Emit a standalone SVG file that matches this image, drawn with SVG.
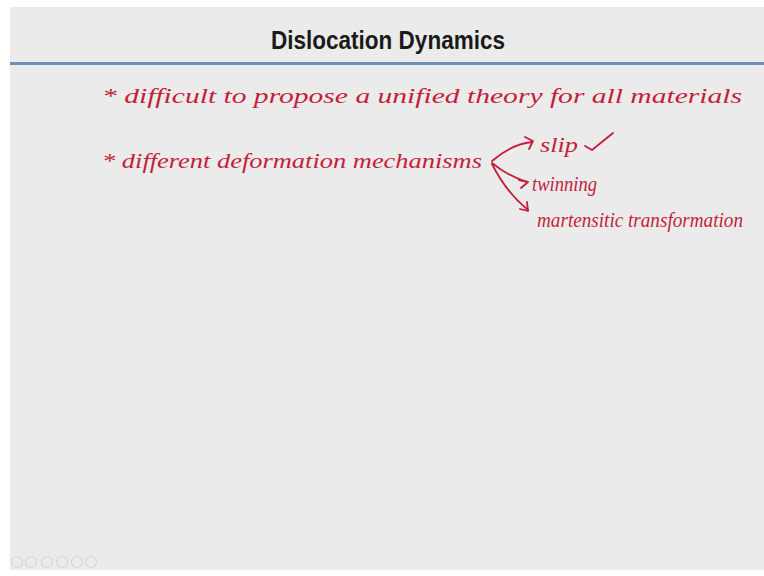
<svg xmlns="http://www.w3.org/2000/svg" width="764" height="576" viewBox="0 0 764 576">
<defs>
<style>
.hw{font-family:"Liberation Serif","DejaVu Serif",serif;font-style:italic;fill:#c41e3a;font-size:22px}
.title{font-family:"Liberation Sans Narrow","Liberation Sans",Arial,sans-serif;font-weight:bold;font-size:25px;fill:#1a1a1a}
.ink{fill:none;stroke:#c41e3a;stroke-width:1.8;stroke-linecap:round;stroke-linejoin:round}
.icon{fill:none;stroke:#d6d6d6;stroke-width:1.2}
</style>
</defs>
<rect x="0" y="0" width="764" height="576" fill="#ffffff"/>
<rect x="10" y="7" width="754" height="563" fill="#ebebeb"/>
<g id="header">
<text class="title" x="388" y="49" text-anchor="middle" textLength="234" lengthAdjust="spacingAndGlyphs">Dislocation Dynamics</text>
<rect x="10" y="62" width="754" height="3" fill="#6f8fb5"/>
</g>
<g id="line1">
<text class="hw" x="102" y="103" textLength="640" lengthAdjust="spacingAndGlyphs">* difficult to propose a unified theory for all materials</text>
</g>
<g id="line2">
<text class="hw" x="102" y="168" textLength="380" lengthAdjust="spacingAndGlyphs">* different deformation mechanisms</text>
</g>
<g id="slip">
<text class="hw" x="540" y="152" textLength="38" lengthAdjust="spacingAndGlyphs">slip</text>
<path class="ink" d="M585,146 L592,150 L613,133"/>
</g>
<g id="twinning">
<text class="hw" x="532" y="191" textLength="65" lengthAdjust="spacingAndGlyphs">twinning</text>
</g>
<g id="martensitic">
<text class="hw" x="537" y="227" textLength="206" lengthAdjust="spacingAndGlyphs">martensitic transformation</text>
</g>
<g id="connectors">
<path class="ink" d="M492,161 Q512,144 532,142"/>
<path class="ink" d="M525,137 L533,141 L529,149"/>
<path class="ink" d="M492,163 Q508,176 527,182"/>
<path class="ink" d="M519,180 L528,182 L521,188"/>
<path class="ink" d="M492,164 Q506,192 528,210"/>
<path class="ink" d="M520,209 L528,211 L527,202"/>
</g>
<g id="toolbar">
<circle class="icon" cx="17" cy="562" r="5.5"/>
<circle class="icon" cx="31" cy="562" r="5.5"/>
<circle class="icon" cx="47" cy="562" r="5.5"/>
<circle class="icon" cx="62" cy="562" r="5.5"/>
<circle class="icon" cx="77" cy="562" r="5.5"/>
<circle class="icon" cx="91" cy="562" r="5.5"/>
</g>
</svg>
